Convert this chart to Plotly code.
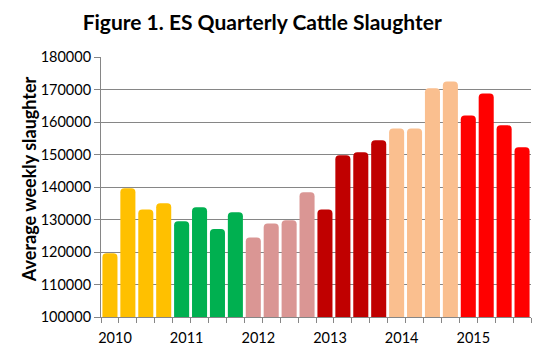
import plotly.graph_objects as go

years = ["2010", "2011", "2012", "2013", "2014", "2015"]
year_colors = ["#FFC000", "#00B050", "#DA9694", "#C00000", "#FABF8F", "#FF0000"]
slaughter = [
    119600, 139600, 133100, 135000,
    129500, 133800, 127100, 132200,
    124500, 128800, 129800, 138400,
    133100, 149800, 150700, 154400,
    158000, 158000, 170400, 172500,
    162000, 168800, 159000, 152200,
]
quarters_per_year = 4

x_pos = list(range(len(slaughter)))
bar_colors = [year_colors[i // quarters_per_year] for i in x_pos]
year_ticks = [i * quarters_per_year for i in range(len(years))]

fig = go.Figure(go.Bar(
    x=x_pos, y=slaughter, marker_color=bar_colors,
    marker_line_width=0, width=0.84,
))

# page is shown with an 8px body margin, so the figure is drawn 542x347
fig.update_layout(
    width=542, height=347,
    margin=dict(l=93, r=19, t=49, b=38),
    plot_bgcolor="white", paper_bgcolor="white",
    barcornerradius=4,
    showlegend=False,
    font=dict(family="Lato", color="#000000"),
    title=dict(text="<b>Figure 1. ES Quarterly Cattle Slaughter</b>",
               x=0.469, xanchor="center", y=0.957, yanchor="middle",
               font=dict(size=21, family="Lato", color="#000000")),
    annotations=[dict(
        text="<b>Average weekly slaughter</b>", textangle=-90,
        xref="paper", yref="paper", x=-0.167, y=0.531,
        xanchor="center", yanchor="middle", showarrow=False,
        font=dict(size=18, family="Lato", color="#000000"),
    )],
)

fig.update_xaxes(
    automargin=False,
    range=[-0.5, len(slaughter) - 0.5],
    tickvals=year_ticks, ticktext=years,
    ticks="outside", ticklen=8, tickcolor="rgba(0,0,0,0)",
    ticklabelshift=5,
    tickfont=dict(size=14.5, family="Lato"),
    showgrid=False, showline=True, linecolor="#868686", linewidth=1,
    minor=dict(tick0=-0.5, dtick=1, ticks="outside", ticklen=5,
               tickcolor="#868686", showgrid=False),
)

fig.update_yaxes(
    automargin=False,
    range=[100000, 180000], dtick=10000,
    tickformat="d", tickfont=dict(size=14.5, family="Lato"),
    ticks="outside", ticklen=6, tickcolor="#868686",
    showgrid=True, gridcolor="#868686", gridwidth=1,
    showline=True, linecolor="#868686", linewidth=1,
)

fig.write_html("out.html")
